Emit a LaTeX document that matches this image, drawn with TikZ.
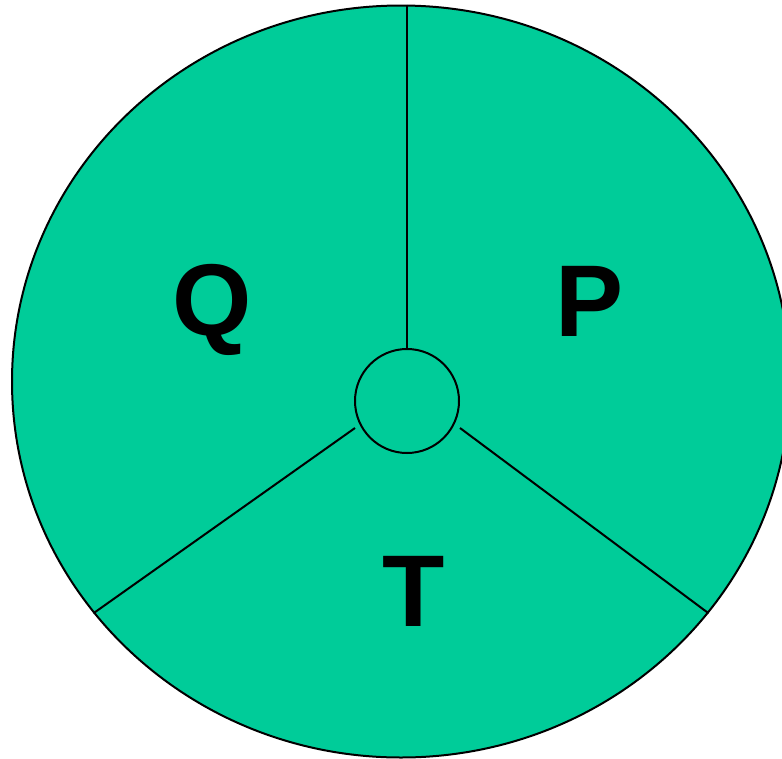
\documentclass[tikz,border=0pt]{standalone}
\usepackage{fontspec}
\setmainfont{Liberation Sans}
\usetikzlibrary{shapes.geometric,calc}
\definecolor{sectgreen}{RGB}{0,204,153}

\begin{document}
\begin{tikzpicture}[
    x=1pt, y=-1pt,
    disc/.style={draw, fill=sectgreen, ellipse, inner sep=0pt, line width=2pt},
    hubring/.style={draw, fill=sectgreen, circle, inner sep=0pt, line width=2pt},
    divider/.style={line width=2pt},
    letter/.style={font=\fontsize{102}{102}\selectfont\bfseries, anchor=base, inner sep=0pt},
]
\useasboundingbox (0,0) rectangle (782,758);

% outer disc and centre ring
\node[disc, minimum width=778pt, minimum height=752pt] (disk) at (401,381.5) {};
\node[hubring, minimum size=104pt] (hub) at (407,401) {};

% dividers
\coordinate (leftin) at (355,428);
\coordinate (rightin) at (460,428);
\draw[divider] (hub |- disk.north) -- (hub.north);
\draw[divider] (leftin) -- (disk.217.4);
\draw[divider] (rightin) -- (disk.323.5);

% sector letters
\node[letter] (q) at (212,335) {Q};
\node[letter] (p) at (590,336) {P};
\node[letter] (t) at (414,626) {T};

\end{tikzpicture}
\end{document}
